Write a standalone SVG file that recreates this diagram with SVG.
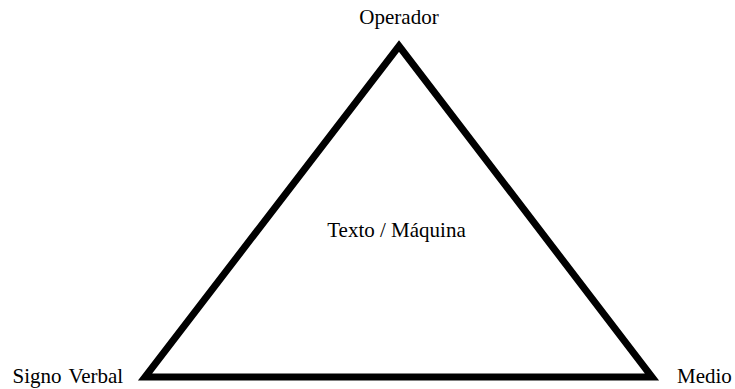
<svg xmlns="http://www.w3.org/2000/svg" width="735" height="389" viewBox="0 0 735 389">
<style>
text{font-family:'Liberation Serif','Times New Roman',Times,serif;font-size:21px;fill:#000}
.edge{fill:none;stroke:#000;stroke-width:7;stroke-linejoin:miter}
</style>
<rect width="735" height="389" fill="#fff"/>
<g id="connectors">
<polygon class="edge" points="399,46 652,377 145,377"/>
</g>
<g id="node-operador"><text x="399" y="24" text-anchor="middle" font-family="Liberation Serif, serif">Operador</text></g>
<g id="node-texto"><text x="396.5" y="237" text-anchor="middle" font-family="Liberation Serif, serif">Texto / Máquina</text></g>
<g id="node-signo"><text x="12.5" y="383" font-family="Liberation Serif, serif" word-spacing="2">Signo Verbal</text></g>
<g id="node-medio"><text x="677" y="383" font-family="Liberation Serif, serif">Medio</text></g>
</svg>
